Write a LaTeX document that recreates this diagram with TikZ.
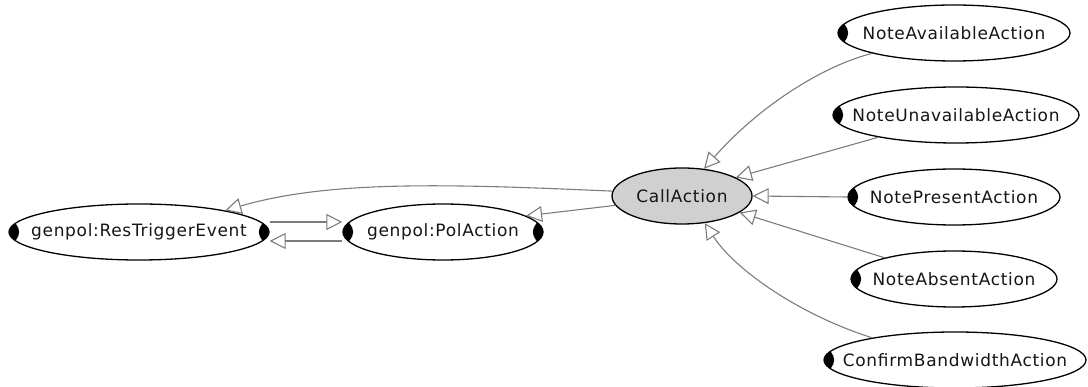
\documentclass[tikz,border=0pt]{standalone}
\usepackage{fontspec}
\setmainfont{DejaVu Sans}[LetterSpace=4]
\usetikzlibrary{arrows.meta,shapes.geometric}
\definecolor{edgegray}{HTML}{7C7C7C}
\definecolor{hubfill}{HTML}{D0D0D0}
\definecolor{labelink}{HTML}{161616}
\tikzset{
  cls/.style={ellipse, draw=black, line width=1.3pt, fill=white,
    minimum height=56pt, inner sep=0pt, text=labelink,
    font=\fontsize{17pt}{20pt}\selectfont},
  hub/.style={cls, fill=hubfill},
  isa/.style={draw=edgegray, line width=1.1pt,
    -{Triangle[open, length=16pt, width=16pt]}},
}
% black expander marks at the left / right end of a class ellipse
% #1 = node name, #2 = half width of the ellipse
\newcommand\expanderL[2]{%
  \begin{scope}
    \clip (#1.center) ellipse [x radius=#2pt, y radius=28pt];
    \fill[black] (#1.west) ++(-2,-16) .. controls +(17,10) and +(17,-10) .. ++(0,32) -- cycle;
  \end{scope}}
\newcommand\expanderR[2]{%
  \begin{scope}
    \clip (#1.center) ellipse [x radius=#2pt, y radius=28pt];
    \fill[black] (#1.east) ++(2,-16) .. controls +(-17,10) and +(-17,-10) .. ++(0,32) -- cycle;
  \end{scope}}
\begin{document}
\begin{tikzpicture}[x=1pt, y=-1pt]
\useasboundingbox (0,0) rectangle (1088,387);

% class nodes
\node[cls, minimum width=260pt] (rt)  at (139,232) {\makebox[0pt]{genpol:ResTriggerEvent}};
\node[cls, minimum width=200pt] (pa)  at (443,232) {\makebox[0pt]{genpol:PolAction}};
\node[hub, minimum width=140pt] (ca)  at (682,196) {\makebox[0pt]{CallAction}};
\node[cls, minimum width=232pt] (nav) at (954,33)  {\makebox[0pt]{NoteAvailableAction}};
\node[cls, minimum width=246pt] (nun) at (956,115) {\makebox[0pt]{NoteUnavailableAction}};
\node[cls, minimum width=212pt] (npr) at (954,197) {\makebox[0pt]{NotePresentAction}};
\node[cls, minimum width=206pt] (nab) at (954,279) {\makebox[0pt]{NoteAbsentAction}};
\node[cls, minimum width=262pt] (cbw) at (955,360) {\makebox[0pt]{ConfirmBandwidthAction}};

% expander marks
\expanderL{rt}{130}\expanderR{rt}{130}
\expanderL{pa}{100}\expanderR{pa}{100}
\expanderL{nav}{116}
\expanderL{nun}{123}
\expanderL{npr}{106}
\expanderL{nab}{103}
\expanderL{cbw}{131}

% subclass links
\draw[isa] (ca.176) .. controls (450,184) and (330,180) .. (rt.14);
\draw[isa] (ca.188) -- (pa.11);
\draw[isa, transform canvas={yshift=10pt}] (rt) -- (pa);
\draw[isa, transform canvas={yshift=-9pt}] (pa) -- (rt);
\draw[isa] (nav.194) .. controls (825,65) and (760,105) .. (ca.51);
\draw[isa] (nun.196) -- (ca.19);
\draw[isa] (npr.west) -- (ca.east);
\draw[isa] (nab.163) -- (ca.-16);
\draw[isa] (cbw.165) .. controls (800,315) and (735,270) .. (ca.-50);
\end{tikzpicture}
\end{document}
